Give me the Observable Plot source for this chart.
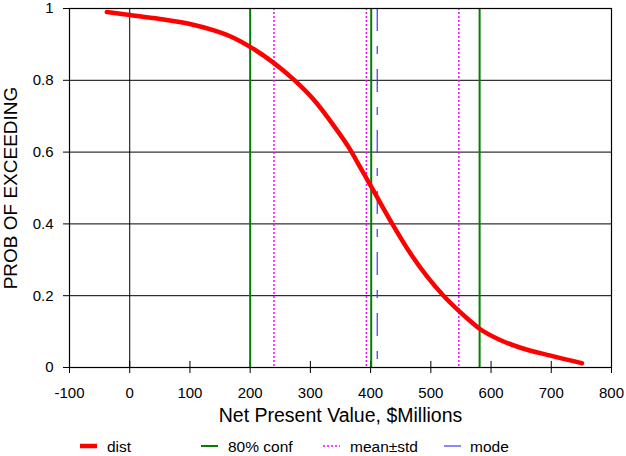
<!DOCTYPE html>
<html><head><meta charset="utf-8">
<script src="https://cdn.jsdelivr.net/npm/d3@7"></script>
<script src="https://cdn.jsdelivr.net/npm/@observablehq/plot@0.6"></script>
<style>
body{margin:0;background:#fff;font-family:"Liberation Sans",Arial,sans-serif;}
#wrap{position:relative;width:626px;height:456px;}
#chart svg{display:block;}
#legend{display:block;}
</style></head><body>
<div id="wrap"><div id="chart"></div><svg id="legend" width="626" height="24"></svg></div>
<script>
const curveX = [-38, 0, 50, 100, 140, 173, 200, 238, 273, 306, 339, 366, 383, 401, 435, 466, 521, 546.5, 563, 581, 616, 649, 699, 751];
const curveY = [0.990, 0.982, 0.971, 0.957, 0.939, 0.918, 0.893, 0.850, 0.801, 0.745, 0.673, 0.607, 0.557, 0.504, 0.403, 0.318, 0.200, 0.158, 0.133, 0.108, 0.076, 0.055, 0.033, 0.012];
const confX = [200, 401, 581];
const statX = [239.5, 393, 546.5];
const modeX = [411];
const xTicks = [-100, 0, 100, 200, 300, 400, 500, 600, 700, 800];
const yTicks = [0, 0.2, 0.4, 0.6, 0.8, 1];
const legendItems = ["dist", "80% conf", "mean±std", "mode"];

const curve = curveX.map((x, i) => ({x, y: curveY[i]}));

const chart = Plot.plot({
  width: 626, height: 432,
  marginLeft: 69, marginRight: 15, marginTop: 8, marginBottom: 65,
  style: {fontFamily: '"Liberation Sans", Arial, sans-serif', fontSize: "15px", color: "#000", background: "#fff"},
  x: {domain: [-100, 800]},
  y: {domain: [0, 1]},
  marks: [
    Plot.ruleY(yTicks.slice(1, 5), {stroke: "#000", strokeWidth: 1}),
    Plot.ruleX([0], {stroke: "#000", strokeWidth: 1}),
    Plot.ruleX(xTicks, {y1: 0, y2: 0.017, stroke: "#000", strokeWidth: 1}),
    Plot.ruleX(confX, {stroke: "#008000", strokeWidth: 2}),
    Plot.ruleX(statX, {stroke: "#ff00ff", strokeWidth: 1.5, strokeDasharray: "2,2"}),
    Plot.ruleX(modeX, {stroke: "#3a3aff", strokeWidth: 1.2, strokeDasharray: "23,15,8,15"}),
    Plot.line(curve, {x: "x", y: "y", stroke: "#ff0000", strokeWidth: 4.5, curve: "monotone-x"}),
    Plot.frame({stroke: "#000", strokeWidth: 1.2}),
    Plot.axisX({ticks: xTicks, tickSize: 6, tickPadding: 14, tickFormat: d => String(d), label: null}),
    Plot.axisY({ticks: yTicks, tickSize: 6, tickPadding: 10, tickFormat: d => String(d), label: null}),
    Plot.text(["Net Present Value, $Millions"], {frameAnchor: "bottom", dy: 54, fontSize: 19.5, fill: "#000"}),
    Plot.text(["PROB OF EXCEEDING"], {frameAnchor: "left", textAnchor: "middle", dx: -59, rotate: -90, fontSize: 19, fill: "#000"})
  ]
});
document.getElementById("chart").appendChild(chart);

// legend
const lg = d3.select("#legend");
const styles = [
  {x: 80, stroke: "#ff0000", w: 4.5, dash: null, tx: 107},
  {x: 201, stroke: "#008000", w: 2, dash: null, tx: 228},
  {x: 323, stroke: "#ff00ff", w: 1.5, dash: "2,2", tx: 350},
  {x: 444, stroke: "#3a3aff", w: 1.2, dash: null, tx: 470}
];
legendItems.forEach((name, i) => {
  const s = styles[i];
  lg.append("line").attr("x1", s.x).attr("x2", s.x + 17).attr("y1", 14).attr("y2", 14)
    .attr("stroke", s.stroke).attr("stroke-width", s.w).attr("stroke-dasharray", s.dash);
  lg.append("text").attr("x", s.tx).attr("y", 19.5).attr("font-size", 15.5)
    .attr("font-family", '"Liberation Sans", Arial, sans-serif').text(name);
});
</script>
</body></html>
